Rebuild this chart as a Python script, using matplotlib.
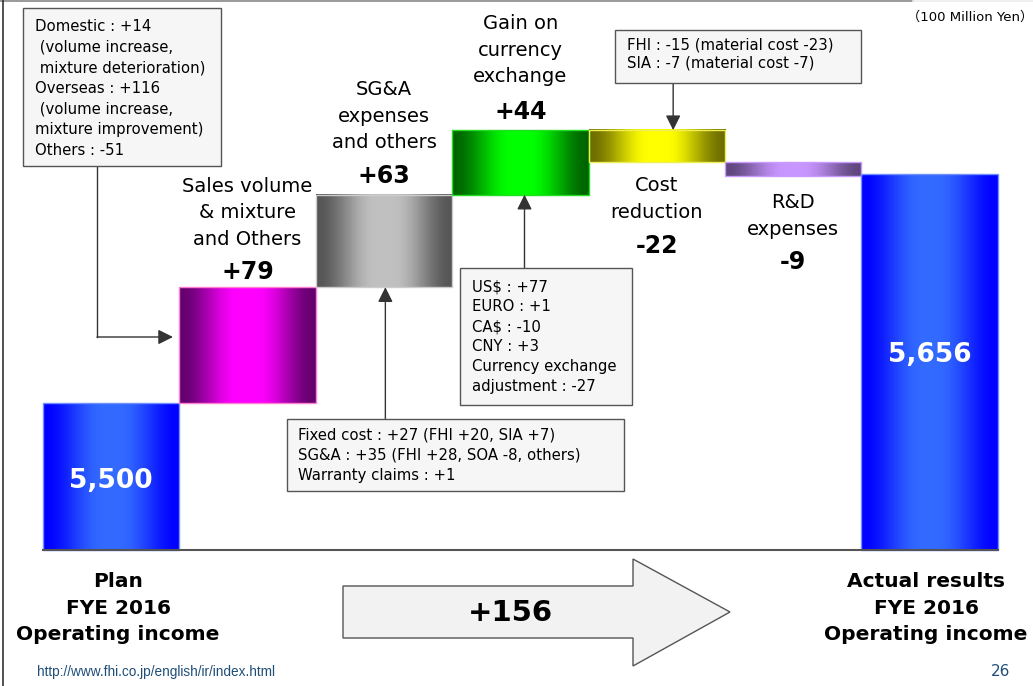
import numpy as np
import matplotlib
matplotlib.use('Agg')
import matplotlib.pyplot as plt
import matplotlib.transforms as mtransforms
from matplotlib.patches import Rectangle, Polygon

plt.rcParams['font.family'] = ['DejaVu Sans', 'Noto Sans CJK JP']

# ── data (100 million yen) ─────────────────────────────
start_label = "Plan\nFYE 2016\nOperating income"
end_label = "Actual results\nFYE 2016\nOperating income"
start_value = 5500
end_value = 5656
step_names = ["Sales volume\n& mixture\nand Others",
              "SG&A\nexpenses\nand others",
              "Gain on\ncurrency\nexchange",
              "Cost\nreduction",
              "R&D\nexpenses"]
step_deltas = [79, 63, 44, -22, -9]
total_change = 156
baseline = 5400

note_sales = ("Domestic : +14\n (volume increase,\n mixture deterioration)\n"
              "Overseas : +116\n (volume increase,\nmixture improvement)\nOthers : -51")
note_sga = ("Fixed cost : +27 (FHI +20, SIA +7)\n"
            "SG&A : +35 (FHI +28, SOA -8, others)\nWarranty claims : +1")
note_fx = ("US$ : +77\nEURO : +1\nCA$ : -10\nCNY : +3\n"
           "Currency exchange\nadjustment : -27")
note_cost = "FHI : -15 (material cost -23)\nSIA : -7 (material cost -7)"

# colour pairs (edge of bar, centre of bar) for the shaded look
shades = [((0, 0, 255), (50, 105, 255)),
          ((100, 0, 110), (255, 0, 255)),
          ((85, 85, 85), (192, 192, 192)),
          ((0, 100, 0), (0, 255, 0)),
          ((110, 110, 0), (255, 255, 0)),
          ((95, 70, 125), (200, 150, 255)),
          ((0, 0, 255), (50, 105, 255))]
outlines = ['#7090ff', '#ff7fd0', '#cccccc', '#22dd22', '#eeee55', '#c79bff', '#7090ff']

W, H = 1033, 686
fig = plt.figure(figsize=(W / 100, H / 100), dpi=100)
ax = fig.add_axes([0, 0, 1, 1])
ov = fig.add_axes([0, 0, 1, 1], zorder=5)
ov.set_xlim(0, W)
ov.set_ylim(H, 0)
ov.axis('off')
ov.patch.set_alpha(0)


def gradient(c_edge, c_mid, n=200):
    u = np.linspace(0, 1, n)
    t = np.clip(1.15 * (1 - np.abs(2 * u - 1)), 0, 1)
    t = t * t * (3 - 2 * t)
    e = np.array(c_edge) / 255
    m = np.array(c_mid) / 255
    row = e[None, :] * (1 - t[:, None]) + m[None, :] * t[:, None]
    return np.repeat(row[None, :, :], 2, axis=0)


# waterfall extents
lows, highs = [baseline], [start_value]
level = start_value
for d in step_deltas:
    lows.append(min(level, level + d))
    highs.append(max(level, level + d))
    level += d
lows.append(baseline)
highs.append(end_value)

for i, (lo, hi) in enumerate(zip(lows, highs)):
    ax.imshow(gradient(*shades[i]), extent=(i - 0.5, i + 0.5, lo, hi),
              aspect='auto', interpolation='nearest', zorder=2)
    ax.add_patch(Rectangle((i - 0.5, lo), 1, hi - lo, fill=False,
                           ec=outlines[i], lw=1, zorder=3))

n = len(lows)
ax.plot([-0.5, n - 0.5], [baseline, baseline], color='#555555', lw=1.5, zorder=4)

ax.set_xlim(-43 / 136.4 - 0.5, (W - 43) / 136.4 - 0.5)
ax.set_ylim(baseline - 136 / 1.468, baseline + 550 / 1.468)
ax.axis('off')

# values inside the totals
ax.text(0, baseline + (start_value - baseline) * 0.47, f"{start_value:,}",
        ha='center', va='center', color='white', fontsize=19, fontweight='bold', zorder=6)
ax.text(n - 1, (baseline + end_value) / 2 + 5, f"{end_value:,}",
        ha='center', va='center', color='white', fontsize=19, fontweight='bold', zorder=6)

# step labels: x from bar index, y in slide pixels
bt = mtransforms.blended_transform_factory(ax.transData, ov.transData)
name_y = [213, 116, 50, 199, 216]
delta_y = [272, 176, 112, 246, 262]
for i, (name, d) in enumerate(zip(step_names, step_deltas)):
    ax.text(i + 1, name_y[i], name, transform=bt, ha='center', va='center',
            fontsize=14, linespacing=1.52, zorder=6)
    ax.text(i + 1, delta_y[i], f"{d:+d}", transform=bt, ha='center', va='center',
            fontsize=17, fontweight='bold', zorder=6)

# bottom labels
ov.text(118, 608, start_label, ha='center', va='center', fontsize=14.5,
        fontweight='bold', linespacing=1.53)
ov.text(926, 608, end_label, ha='center', va='center', fontsize=14.5,
        fontweight='bold', linespacing=1.53)

# big arrow with total change
ov.add_patch(Polygon([(343, 586), (633, 586), (633, 559), (730, 612),
                      (633, 666), (633, 638), (343, 638)],
                     closed=True, fc='#f2f2f2', ec='#555555', lw=1))
ov.text(510, 613, f"{total_change:+d}", ha='center', va='center',
        fontsize=21, fontweight='bold')


def note(x0, y0, x1, y1, tx, ty, s, ls):
    ov.add_patch(Rectangle((x0, y0), x1 - x0, y1 - y0, fc='#f6f6f6', ec='#555555', lw=1, zorder=3))
    ov.text(tx, ty, s, ha='left', va='top', fontsize=10.7, linespacing=ls, zorder=4)


note(23, 8, 221, 166, 35, 19, note_sales, 1.47)
note(287, 419, 624, 491, 298, 427, note_sga, 1.47)
note(460, 268, 632, 405, 472, 279, note_fx, 1.42)
note(615, 30, 861, 83, 627, 38, note_cost, 1.25)

arrow = dict(arrowstyle='-|>,head_length=0.9,head_width=0.45', color='#333333',
             lw=1, shrinkA=0, shrinkB=0)
# sales note: elbow connector to the side of the bar
ov.plot([97, 97], [166, 337], color='#333333', lw=1)
ov.annotate('', xy=(173, 337), xytext=(97, 337), arrowprops=arrow, zorder=7)
ax.annotate('', xy=(2.01, lows[2]), xycoords='data', xytext=(2.01, 419),
            textcoords=bt, arrowprops=arrow, zorder=7)
ax.annotate('', xy=(3.03, lows[3]), xycoords='data', xytext=(3.03, 268),
            textcoords=bt, arrowprops=arrow, zorder=7)
ax.annotate('', xy=(4.12, highs[4]), xycoords='data', xytext=(4.12, 83),
            textcoords=bt, arrowprops=arrow, zorder=7)

# slide furniture
ov.plot([0, 913], [1, 1], color='#888888', lw=1.2)
ov.plot([913, W], [1, 1], color='#eeeeee', lw=1.2)
ov.plot([3, 3], [0, H], color='#333333', lw=1.2)
ov.text(1033, 17, "（100 Million Yen）", ha='right', va='center', fontsize=9.5)
ov.text(37, 672, "http://www.fhi.co.jp/english/ir/index.html", ha='left', va='center',
        fontsize=9.8, family='Liberation Sans', color='#1f4e79')
ov.text(1010, 672, "26", ha='right', va='center', fontsize=11, color='#1f4e79')

fig.savefig('out.png', dpi=100)
